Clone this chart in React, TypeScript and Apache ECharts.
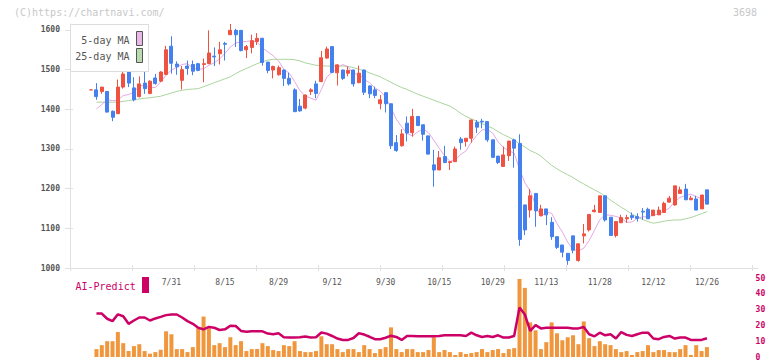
import React, { useEffect, useRef } from 'react';
import * as echarts from 'echarts';

const dates = [
  '7/9', '7/10', '7/11', '7/14', '7/15', '7/16', '7/17', '7/18', '7/22', '7/23', '7/24', '7/25', '7/28', '7/29', '7/30', '7/31',
  '8/1', '8/4', '8/5', '8/6', '8/7', '8/8', '8/12', '8/13', '8/14', '8/15',
  '8/18', '8/19', '8/20', '8/21', '8/22', '8/25', '8/26', '8/27', '8/28', '8/29',
  '9/1', '9/2', '9/3', '9/4', '9/5', '9/8', '9/9', '9/10', '9/11', '9/12',
  '9/16', '9/17', '9/18', '9/19', '9/22', '9/24', '9/25', '9/26', '9/29', '9/30',
  '10/1', '10/2', '10/3', '10/6', '10/7', '10/8', '10/9', '10/10', '10/14', '10/15',
  '10/16', '10/17', '10/20', '10/21', '10/22', '10/23', '10/24', '10/27', '10/28', '10/29',
  '10/30', '10/31', '11/4', '11/5', '11/6', '11/7', '11/10', '11/11', '11/12', '11/13',
  '11/14', '11/17', '11/18', '11/19', '11/20', '11/21', '11/25', '11/26', '11/27', '11/28',
  '12/1', '12/2', '12/3', '12/4', '12/5', '12/8', '12/9', '12/10', '12/11', '12/12',
  '12/15', '12/16', '12/17', '12/18', '12/19', '12/22', '12/23', '12/24', '12/25', '12/26',
];

const tickLabels = ['7/31', '8/15', '8/29', '9/12', '9/30', '10/15', '10/29', '11/13', '11/28', '12/12', '12/26'];

const opens = [
  1449, 1449, 1445, 1445, 1395, 1389, 1456, 1496, 1454, 1432,
  1466, 1440, 1479, 1471, 1488, 1559, 1514, 1473, 1509, 1513,
  1515, 1513, 1515, 1534, 1540, 1566, 1588, 1599, 1599, 1550,
  1556, 1571, 1579, 1519, 1499, 1487, 1499, 1478, 1449, 1408,
  1403, 1445, 1464, 1470, 1529, 1558, 1492, 1499, 1491, 1499,
  1467, 1499, 1459, 1449, 1414, 1442, 1414, 1316, 1308, 1365,
  1341, 1382, 1361, 1333, 1260, 1247, 1281, 1266, 1268, 1325,
  1319, 1327, 1367, 1370, 1369, 1323, 1282, 1256, 1283, 1323,
  1314, 1159, 1146, 1188, 1132, 1149, 1115, 1079, 1058, 1037,
  1081, 1019, 1081, 1096, 1142, 1140, 1182, 1128, 1082, 1114,
  1124, 1132, 1130, 1143, 1148, 1132, 1134, 1140, 1166, 1159,
  1188, 1199, 1172, 1174, 1149, 1197,
];

const closes = [
  1449, 1432, 1456, 1393, 1380, 1456, 1489, 1466, 1424, 1464,
  1452, 1471, 1465, 1494, 1550, 1516, 1507, 1500, 1503, 1496,
  1498, 1515, 1542, 1532, 1550, 1564, 1599, 1588, 1548, 1558,
  1573, 1579, 1518, 1498, 1508, 1505, 1478, 1464, 1394, 1396,
  1436, 1449, 1440, 1530, 1552, 1493, 1512, 1478, 1498, 1464,
  1491, 1443, 1439, 1435, 1424, 1414, 1308, 1296, 1338, 1340,
  1382, 1359, 1337, 1287, 1247, 1278, 1266, 1268, 1300, 1316,
  1327, 1373, 1355, 1368, 1323, 1279, 1266, 1285, 1320, 1302,
  1072, 1096, 1182, 1144, 1149, 1134, 1079, 1052, 1040, 1019,
  1045, 1061, 1086, 1135, 1146, 1182, 1121, 1082, 1117, 1127,
  1127, 1127, 1125, 1141, 1124, 1146, 1146, 1163, 1176, 1207,
  1197, 1172, 1176, 1146, 1184, 1161,
];

const lows = [
  1449, 1424, 1439, 1392, 1370, 1388, 1452, 1456, 1420, 1430,
  1439, 1438, 1462, 1469, 1486, 1490, 1487, 1450, 1487, 1486,
  1496, 1468, 1514, 1509, 1513, 1523, 1587, 1557, 1546, 1529,
  1541, 1562, 1510, 1491, 1478, 1485, 1459, 1460, 1393, 1394,
  1400, 1436, 1428, 1468, 1528, 1491, 1460, 1474, 1483, 1457,
  1466, 1436, 1428, 1428, 1400, 1392, 1300, 1293, 1306, 1319,
  1331, 1359, 1321, 1287, 1205, 1247, 1264, 1247, 1268, 1298,
  1306, 1316, 1340, 1352, 1318, 1277, 1262, 1256, 1270, 1253,
  1056, 1083, 1127, 1104, 1132, 1108, 1071, 1048, 1027, 1008,
  1037, 1016, 1062, 1092, 1140, 1140, 1117, 1082, 1077, 1114,
  1114, 1121, 1117, 1121, 1124, 1132, 1134, 1140, 1166, 1157,
  1187, 1171, 1171, 1146, 1149, 1161,
];

const highs = [
  1449, 1466, 1456, 1446, 1397, 1475, 1509, 1500, 1481, 1483,
  1494, 1473, 1489, 1496, 1560, 1584, 1521, 1509, 1523, 1523,
  1517, 1528, 1599, 1556, 1570, 1570, 1615, 1603, 1600, 1562,
  1588, 1592, 1580, 1519, 1510, 1510, 1500, 1492, 1453, 1426,
  1437, 1453, 1472, 1547, 1558, 1559, 1513, 1500, 1508, 1500,
  1510, 1500, 1460, 1457, 1436, 1442, 1414, 1335, 1350, 1382,
  1401, 1382, 1361, 1333, 1298, 1295, 1308, 1268, 1306, 1330,
  1327, 1374, 1373, 1376, 1370, 1323, 1282, 1306, 1320, 1326,
  1337, 1159, 1199, 1188, 1159, 1149, 1128, 1079, 1058, 1037,
  1081, 1061, 1111, 1135, 1159, 1182, 1182, 1128, 1117, 1134,
  1134, 1140, 1138, 1151, 1152, 1146, 1155, 1167, 1182, 1207,
  1205, 1212, 1182, 1182, 1184, 1197,
];

const ma5 = [
  null, 1401, 1412, 1424, 1422, 1423, 1435, 1437, 1443, 1460,
  1459, 1455, 1455, 1469, 1486, 1499, 1506, 1513, 1515, 1504,
  1501, 1502, 1511, 1517, 1527, 1541, 1557, 1567, 1570, 1571,
  1573, 1569, 1555, 1545, 1535, 1522, 1501, 1491, 1470, 1447,
  1434, 1428, 1423, 1450, 1481, 1493, 1505, 1513, 1507, 1489,
  1489, 1475, 1467, 1454, 1446, 1431, 1404, 1375, 1356, 1339,
  1333, 1343, 1351, 1341, 1322, 1302, 1283, 1269, 1272, 1286,
  1295, 1317, 1334, 1348, 1349, 1340, 1318, 1304, 1295, 1290,
  1249, 1215, 1194, 1159, 1129, 1141, 1138, 1112, 1091, 1065,
  1047, 1043, 1050, 1069, 1095, 1122, 1134, 1133, 1130, 1126,
  1115, 1116, 1125, 1129, 1129, 1133, 1136, 1144, 1151, 1168,
  1178, 1183, 1186, 1180, 1175, 1168,
];

const ma25 = [
  null, 1418, 1418, 1418, 1418, 1418, 1420, 1422, 1424, 1426,
  1428, 1429, 1431, 1433, 1437, 1441, 1445, 1448, 1450, 1451,
  1452, 1457, 1462, 1467, 1472, 1477, 1482, 1490, 1497, 1503,
  1509, 1515, 1520, 1524, 1526, 1526, 1526, 1526, 1525, 1522,
  1517, 1514, 1511, 1510, 1509, 1509, 1509, 1509, 1508, 1505,
  1501, 1497, 1492, 1487, 1482, 1475, 1468, 1461, 1455, 1450,
  1444, 1438, 1433, 1428, 1423, 1418, 1413, 1408, 1400, 1390,
  1382, 1376, 1370, 1364, 1358, 1352, 1344, 1336, 1330, 1322,
  1313, 1305, 1296, 1290, 1282, 1270, 1259, 1250, 1242, 1235,
  1228, 1219, 1212, 1204, 1197, 1190, 1181, 1171, 1162, 1153,
  1145, 1136, 1129, 1122, 1117, 1113, 1115, 1118, 1120, 1121,
  1121, 1124, 1127, 1132, 1137, 1142,
];

const volume = [
  null, 5.0, 7.5, 10, 10, 15.8, 8.75, 3.75, 6.9, 8.1,
  3.75, 2.1, 3.1, 4.6, 16.25, 14.4, 5.0, 5.0, 3.1, 6.25,
  18.1, 25.6, 18.1, 7.5, 8.75, 6.25, 12.5, 7.5, 10, 3.75,
  5.0, 5.0, 8.75, 6.9, 4.4, 3.75, 7.5, 6.9, 10, 3.75,
  3.1, 3.1, 3.75, 13.1, 8.1, 8.1, 5.0, 3.1, 5.0, 5.0,
  3.1, 7.5, 5.0, 2.5, 5.0, 6.25, 18.75, 5.0, 3.1, 5.0,
  5.0, 3.1, 3.1, 4.4, 12.5, 3.1, 4.4, 3.1, 1.25, 3.1,
  1.9, 2.5, 3.1, 5.0, 3.1, 4.4, 5.0, 2.5, 5.0, 5.6,
  49.4, 43.75, 21.9, 16.9, 5.0, 9.4, 21.9, 15, 10.6, 12.5,
  13.75, 8.1, 22.5, 11.9, 6.9, 10, 8.1, 7.5, 5.0, 3.1,
  3.75, 1.25, 3.1, 3.75, 7.5, 3.1, 4.4, 4.4, 3.1, 3.1,
  5.0, 7.5, 1.25, 7.5, 3.75, 6.25,
];

const aiPredict = [
  null, 27.5, 27.5, 24.2, 22.7, 27, 25.8, 21, 23.1, 25,
  25, 23.1, 24.4, 25.4, 26.5, 26.9, 26.9, 25, 22.7, 21,
  18.5, 17.5, 19, 18.5, 17.1, 17.5, 19.8, 19.6, 16.5, 16,
  16.25, 16.25, 16.25, 14.8, 14.4, 15, 12.5, 12.3, 12.3, 12.5,
  13, 12.3, 12.5, 15.5, 14.8, 13.3, 11.7, 10.8, 10.8, 12,
  15, 14.2, 12.8, 11.25, 11.25, 12.2, 13.5, 12.7, 10.8, 13.3,
  13.3, 13.1, 13.1, 13.1, 13.1, 13.3, 13.75, 13.75, 13.75, 13.75,
  13.3, 15.4, 13.75, 12.7, 13.3, 12.7, 13.75, 12.3, 12.3, 13.3,
  31.4, 26.9, 16.5, 20.2, 18.1, 18.5, 18.5, 18.5, 18.5, 18.5,
  18.1, 18.1, 19, 14.4, 13.1, 15.4, 13.75, 14.4, 11.7, 15.8,
  14, 13.3, 14.4, 15.4, 15.4, 11.7, 11.25, 12.7, 13.3, 11.7,
  12.3, 12.3, 10.8, 10.8, 10.8, 11.9,
];

const priceTicks = [1000, 1100, 1200, 1300, 1400, 1500, 1600];
const frameTicks = [0, 1, 2, 3, 4, 5, 6, 7, 8, 9, 10, 11];

const FONT = '"DejaVu Sans Mono", monospace';
const UP = '#ef5241';
const DOWN = '#4480ee';
const AXIS = '#e0e0e0';

export default function App() {
  const ref = useRef<HTMLDivElement>(null);

  useEffect(() => {
    if (!ref.current) return;
    const chart = echarts.init(ref.current, null, { renderer: 'svg' });
    const candles = dates.map((_, i) => [opens[i], closes[i], lows[i], highs[i]]);
    const slotW = 5.355;
    const plotLeft = 91.1 - slotW / 2;
    const plotWidth = slotW * dates.length;
    const frameMax = 688 / 62;

    chart.setOption({
      animation: false,
      backgroundColor: '#ffffff',
      grid: [
        { left: 70, top: 24, width: 688, height: 244 },
        { left: plotLeft, top: 24, width: plotWidth, height: 244 },
        { left: plotLeft, top: 278, width: plotWidth, height: 80 },
      ],
      xAxis: [
        {
          type: 'value', gridIndex: 0, position: 'bottom', min: 0, max: frameMax,
          axisLine: { show: true, lineStyle: { color: AXIS, width: 1 } },
          axisTick: { show: true, length: 3, customValues: frameTicks, lineStyle: { color: AXIS } },
          axisLabel: { show: false }, splitLine: { show: false },
        },
        {
          type: 'value', gridIndex: 0, position: 'bottom', min: 0, max: frameMax,
          axisLine: { show: false },
          axisTick: { show: true, inside: true, length: 3, customValues: frameTicks, lineStyle: { color: AXIS } },
          axisLabel: { show: false }, splitLine: { show: false },
        },
        {
          type: 'category', gridIndex: 1, data: dates, boundaryGap: true, position: 'bottom',
          axisLine: { show: false }, axisTick: { show: false }, splitLine: { show: false },
          axisLabel: {
            interval: (_i: number, v: string) => tickLabels.includes(v),
            color: '#555', fontFamily: FONT, fontSize: 8, margin: 10,
          },
        },
        { type: 'category', gridIndex: 2, data: dates, boundaryGap: true, show: false },
      ],
      yAxis: [
        {
          type: 'value', gridIndex: 0, position: 'left', min: 1000, max: 1615,
          axisLine: { show: true, lineStyle: { color: AXIS, width: 1 } },
          axisTick: { show: true, length: 5, customValues: priceTicks, lineStyle: { color: AXIS } },
          axisLabel: {
            customValues: priceTicks, color: '#555', fontFamily: FONT, fontSize: 8, fontWeight: 'bold', margin: 10,
            formatter: (v: number) => String(v),
          },
          splitLine: { show: false },
        },
        {
          type: 'value', gridIndex: 0, position: 'left', min: 1000, max: 1615,
          axisLine: { show: false },
          axisTick: { show: true, inside: true, length: 3, customValues: priceTicks, lineStyle: { color: AXIS } },
          axisLabel: { show: false }, splitLine: { show: false },
        },
        { type: 'value', gridIndex: 1, min: 1000, max: 1615, show: false, splitLine: { show: false } },
        {
          type: 'value', gridIndex: 2, position: 'right', min: 0, max: 50, interval: 10,
          axisLine: { show: false }, axisTick: { show: false }, splitLine: { show: false },
          axisLabel: {
            color: '#cc0066', fontFamily: FONT, fontSize: 8, fontWeight: 'bold', margin: 46,
            formatter: (v: number) => String(v),
          },
        },
      ],
      series: [
        {
          type: 'line', name: '25-day MA', xAxisIndex: 2, yAxisIndex: 2, data: ma25,
          showSymbol: false, symbol: 'none', z: 1,
          lineStyle: { color: '#aad49c', width: 1 },
        },
        {
          type: 'line', name: '5-day MA', xAxisIndex: 2, yAxisIndex: 2, data: ma5,
          showSymbol: false, symbol: 'none', z: 1,
          lineStyle: { color: '#e4a8e4', width: 1 },
        },
        {
          type: 'candlestick', xAxisIndex: 2, yAxisIndex: 2, data: candles, barWidth: 3.5, z: 3,
          itemStyle: { color: UP, color0: DOWN, borderColor: UP, borderColor0: DOWN, borderWidth: 1 },
        },
        {
          type: 'bar', xAxisIndex: 3, yAxisIndex: 3, data: volume, barWidth: 4,
          itemStyle: { color: '#f0963c' }, z: 2,
        },
        {
          type: 'line', name: 'AI-Predict', xAxisIndex: 3, yAxisIndex: 3, data: aiPredict,
          showSymbol: false, symbol: 'none', z: 3,
          lineStyle: { color: '#cc0066', width: 2.5 },
        },
      ],
      graphic: [
        {
          type: 'text', x: 14, y: 12, z: 10,
          style: { text: '(C)https://chartnavi.com/', fill: '#c8c8c8', font: '10px ' + FONT, textAlign: 'left', textVerticalAlign: 'middle' },
        },
        {
          type: 'text', x: 757, y: 12, z: 10,
          style: { text: '3698', fill: '#c8c8c8', font: '10px ' + FONT, textAlign: 'right', textVerticalAlign: 'middle' },
        },
        {
          type: 'rect', z: 10, shape: { x: 70.5, y: 24.5, width: 78, height: 47 },
          style: { fill: '#ffffff', stroke: '#dddddd', lineWidth: 1 },
        },
        {
          type: 'text', x: 129.5, y: 40.5, z: 11,
          style: { text: '5-day MA', fill: '#555', font: '10px ' + FONT, textAlign: 'right', textVerticalAlign: 'middle' },
        },
        {
          type: 'text', x: 129.5, y: 56.5, z: 11,
          style: { text: '25-day MA', fill: '#555', font: '10px ' + FONT, textAlign: 'right', textVerticalAlign: 'middle' },
        },
        {
          type: 'rect', z: 11, shape: { x: 136.5, y: 31.5, width: 6, height: 14 },
          style: { fill: '#e8b8e8', stroke: '#555', lineWidth: 1 },
        },
        {
          type: 'rect', z: 11, shape: { x: 136.5, y: 48.5, width: 6, height: 14 },
          style: { fill: '#b8dcb0', stroke: '#555', lineWidth: 1 },
        },
        {
          type: 'text', x: 75.5, y: 286, z: 10,
          style: { text: 'AI-Predict', fill: '#cc0066', font: '10px ' + FONT, textAlign: 'left', textVerticalAlign: 'middle' },
        },
        {
          type: 'rect', z: 10, shape: { x: 142, y: 277, width: 7, height: 16 },
          style: { fill: '#cc0066' },
        },
      ],
    });

    return () => chart.dispose();
  }, []);

  return (
    <div
      ref={ref}
      style={{ position: 'fixed', left: 0, top: 0, width: 772, height: 361, background: '#fff' }}
    />
  );
}
